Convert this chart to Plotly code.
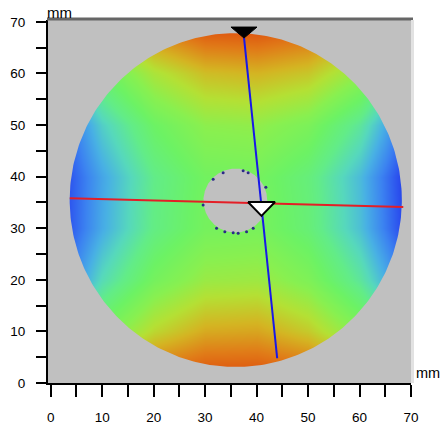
import numpy as np
import plotly.graph_objects as go

# ---------------- data ----------------
x_mm = [0, 10, 20, 30, 40, 50, 60, 70]
y_mm = [0, 10, 20, 30, 40, 50, 60, 70]
# relative map value (0 = blue, 0.5 = green, 1 = red), rows follow y_mm
z_y0 = [0.50, 0.77, 0.96, 1.00, 1.00, 0.98, 0.82, 0.56]
z_y10 = [0.23, 0.50, 0.68, 0.78, 0.79, 0.71, 0.54, 0.29]
z_y20 = [0.04, 0.32, 0.50, 0.60, 0.61, 0.53, 0.36, 0.10]
z_y30 = [0.00, 0.22, 0.40, 0.50, 0.51, 0.43, 0.26, 0.01]
z_y40 = [0.00, 0.21, 0.39, 0.49, 0.50, 0.42, 0.25, 0.00]
z_y50 = [0.02, 0.29, 0.47, 0.57, 0.58, 0.52, 0.36, 0.08]
z_y60 = [0.18, 0.46, 0.64, 0.74, 0.76, 0.72, 0.58, 0.26]
z_y70 = [0.44, 0.71, 0.90, 0.99, 1.00, 0.95, 0.80, 0.52]

# wafer outline and centre hole (mm)
wafer_center = [35.95, 35.47]
wafer_radius = [32.27, 32.36]
hole_center = [35.87, 35.37]
hole_radius = [6.2, 6.2]

# profile cuts (mm)
red_cut_x = [3.7, 68.5]
red_cut_y = [35.8, 34.1]
blue_cut_x = [37.55, 44.0]
blue_cut_y = [67.0, 4.8]

# cursor markers (top-centre of each triangle, mm)
cursor_top = [37.55, 69.0]
cursor_cross = [40.95, 35.1]

# small defect dots around the hole edge (mm)
dots_x = [33.5, 37.39, 38.36, 31.56, 41.80, 29.61, 32.22, 33.83, 35.45, 36.42, 38.05, 39.34]
dots_y = [40.76, 41.14, 40.76, 39.48, 37.93, 34.50, 29.98, 29.32, 29.13, 29.01, 29.32, 29.98]

x_ticks = [0, 10, 20, 30, 40, 50, 60, 70]
y_ticks = [0, 10, 20, 30, 40, 50, 60, 70]

# ---------------- styling ----------------
W, H = 440, 426
L, R, T, B = 48, 29, 20, 43
PW, PH = W - L - R, H - T - B
BG = "#c0c0c0"
FONT = "Liberation Sans"

colorscale = [
    [0.00, "#1a2ce0"], [0.07, "#2c52ee"], [0.15, "#3c84f0"], [0.23, "#48b0e4"],
    [0.31, "#56d8bc"], [0.39, "#62ec88"], [0.47, "#6cf264"], [0.56, "#88f050"],
    [0.66, "#b4e034"], [0.76, "#d4b422"], [0.87, "#e07c18"], [1.00, "#de400a"],
]

z = [z_y0, z_y10, z_y20, z_y30, z_y40, z_y50, z_y60, z_y70]

fig = go.Figure()
fig.add_trace(go.Heatmap(x=x_mm, y=y_mm, z=z, zmin=0, zmax=1, zsmooth="best",
                         colorscale=colorscale, showscale=False, hoverinfo="skip"))

# mask outside the wafer (keyhole polygon: rectangle + reversed ellipse)
t = np.linspace(0, 2 * np.pi, 361)
ex = wafer_center[0] + wafer_radius[0] * np.cos(-t)
ey = wafer_center[1] + wafer_radius[1] * np.sin(-t)
mx = [-10, 80, 80, -10, -10, wafer_center[0] + wafer_radius[0]] + list(ex) + [-10]
my = [-10, -10, 80, 80, -10, wafer_center[1]] + list(ey) + [-10]
fig.add_trace(go.Scatter(x=mx, y=my, mode="lines", fill="toself", fillcolor=BG,
                         line=dict(width=0, color=BG), hoverinfo="skip", showlegend=False))

# centre hole
hx = hole_center[0] + hole_radius[0] * np.cos(t)
hy = hole_center[1] + hole_radius[1] * np.sin(t)
fig.add_trace(go.Scatter(x=hx, y=hy, mode="lines", fill="toself", fillcolor=BG,
                         line=dict(width=0, color=BG), hoverinfo="skip", showlegend=False))

fig.add_trace(go.Scatter(x=dots_x, y=dots_y, mode="markers",
                         marker=dict(size=3, color="#2a2a88"), hoverinfo="skip", showlegend=False))

fig.add_trace(go.Scatter(x=red_cut_x, y=red_cut_y, mode="lines",
                         line=dict(color="#e41e26", width=2), hoverinfo="skip", showlegend=False))
fig.add_trace(go.Scatter(x=blue_cut_x, y=blue_cut_y, mode="lines",
                         line=dict(color="#1818e8", width=2), hoverinfo="skip", showlegend=False))

# triangles (size in mm)
def tri(anchor, w, h):
    ax, ay = anchor
    return [ax - w / 2, ax + w / 2, ax, ax - w / 2], [ay, ay, ay - h, ay]

tx, ty = tri(cursor_top, 5.06, 2.13)
fig.add_trace(go.Scatter(x=tx, y=ty, mode="lines", fill="toself", fillcolor="black",
                         line=dict(color="black", width=1), hoverinfo="skip", showlegend=False))
tx, ty = tri(cursor_cross, 5.25, 2.7)
fig.add_trace(go.Scatter(x=tx, y=ty, mode="lines", fill="toself", fillcolor="white",
                         line=dict(color="black", width=2), hoverinfo="skip", showlegend=False))

fig.update_layout(
    template="none",
    width=W, height=H,
    margin=dict(l=L, r=R, t=T, b=B, pad=0, autoexpand=False),
    paper_bgcolor="white", plot_bgcolor=BG,
    showlegend=False,
    font=dict(family=FONT, size=13.5, color="black"),
    xaxis=dict(range=[-0.53, 70.0], showgrid=False, zeroline=False, automargin=False,
               showline=True, linecolor="black", linewidth=2,
               ticks="outside", ticklen=12, tickwidth=2, tickcolor="black",
               tickvals=x_ticks, ticktext=[str(v) for v in x_ticks],
               ticklabelstandoff=9,
               minor=dict(dtick=5, tick0=0, ticks="outside", ticklen=12, tickwidth=2, tickcolor="black"),
               fixedrange=True),
    yaxis=dict(range=[0, 70.37], showgrid=False, zeroline=False, automargin=False,
               showline=True, linecolor="black", linewidth=2,
               ticks="outside", ticklen=10, tickwidth=2, tickcolor="black",
               tickvals=y_ticks, ticktext=[str(v) for v in y_ticks],
               ticklabelstandoff=8,
               minor=dict(dtick=5, tick0=0, ticks="outside", ticklen=10, tickwidth=2, tickcolor="black"),
               fixedrange=True),
    shapes=[
        # top border
        dict(type="line", xref="paper", yref="paper", x0=-1 / PW, x1=1 + 2 / PW,
             y0=1 + 1 / PH, y1=1 + 1 / PH, line=dict(color="#666666", width=3)),
        # light right edge strip
        dict(type="rect", xref="paper", yref="paper", x0=1, x1=1 + 3 / PW, y0=0, y1=1,
             fillcolor="#e2e2e2", line=dict(width=0)),
    ],
    annotations=[
        dict(text="mm", xref="paper", yref="paper", x=-3 / PW, y=1 + 8 / PH,
             xanchor="left", yanchor="middle", showarrow=False, font=dict(size=15)),
        dict(text="mm", xref="paper", yref="paper", x=1 + 3 / PW, y=10 / PH,
             xanchor="left", yanchor="middle", showarrow=False, font=dict(size=14.5)),
    ],
)

fig.write_html("out.html", config={"displayModeBar": False},
               post_script="document.body.style.margin='0';document.body.style.overflow='hidden';")
